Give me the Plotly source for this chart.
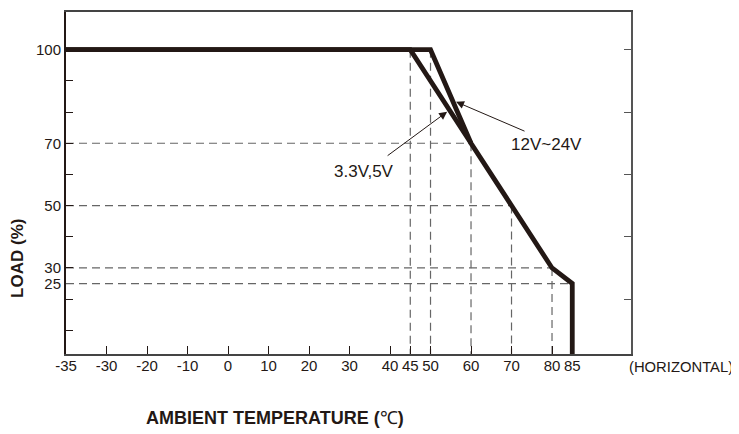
import plotly.graph_objects as go

# ---- data ----
temp_12_24 = [-35, 50, 60, 70, 80, 85, 85]
load_12_24 = [100, 100, 70, 50, 30, 25, 0]
temp_33_5 = [-35, 45, 60]
load_33_5 = [100, 100, 70]

x_tick_labels = [-35, -30, -20, -10, 0, 10, 20, 30, 40, 45, 50, 60, 70, 80, 85]
y_tick_labels = [25, 30, 50, 70, 100]
y_minor_ticks = [10, 20, 30, 40, 50, 60, 70, 80, 90]
y_right_ticks = [20, 40, 60, 80, 100]

# knees that get dashed guide lines
h_guides = [(60, 70), (70, 50), (80, 30), (85, 25)]
v_guides = [(45, 100), (50, 100), (60, 70), (70, 50), (80, 30)]

INK = "#231815"
FONT = "Liberation Sans, Arial, sans-serif"


def xpos(t):
    # the chart's axis stretches the -35..-30 segment to the width of 10 degrees
    return t if t >= -30 else -30 + (t + 30) * 2


XMIN, XMAX = xpos(-35), 99.5
YMIN, YMAX = 2.4, 112.1

fig = go.Figure()

# dashed guides
gx, gy = [], []
for t, l in h_guides:
    gx += [xpos(-35), xpos(t), None]
    gy += [l, l, None]
for t, l in v_guides:
    gx += [xpos(t), xpos(t), None]
    gy += [l, 0, None]
fig.add_trace(go.Scatter(x=gx, y=gy, mode="lines",
                         line=dict(color="#666666", width=1.2, dash="8px,5px"),
                         showlegend=False, hoverinfo="skip"))

fig.add_trace(go.Scatter(x=[xpos(t) for t in temp_33_5], y=load_33_5, mode="lines",
                         line=dict(color=INK, width=4.8), name="3.3V,5V", showlegend=False))
fig.add_trace(go.Scatter(x=[xpos(t) for t in temp_12_24], y=load_12_24, mode="lines",
                         line=dict(color=INK, width=4.8), name="12V~24V", showlegend=False))

# dummy traces to carry the extra tick-only axes
fig.add_trace(go.Scatter(x=[None], y=[None], yaxis="y2", showlegend=False, hoverinfo="skip"))
fig.add_trace(go.Scatter(x=[None], y=[None], yaxis="y3", showlegend=False, hoverinfo="skip"))

fig.update_layout(
    width=731, height=426,
    margin=dict(l=58, r=108, t=2, b=80),
    paper_bgcolor="white", plot_bgcolor="white",
    font=dict(family=FONT, size=15, color=INK),
    xaxis=dict(range=[XMIN, XMAX], tickvals=[xpos(t) for t in x_tick_labels],
               ticktext=[str(t) for t in x_tick_labels], ticks="inside", ticklen=8,
               tickcolor=INK, showline=True, linecolor="#444444", linewidth=1.5, mirror=True,
               showgrid=False, zeroline=False, tickfont=dict(size=15, color=INK),
               ticklabelstandoff=-3),
    yaxis=dict(range=[YMIN, YMAX], tickvals=y_tick_labels, ticktext=[str(v) for v in y_tick_labels],
               ticks="", showline=True, linecolor=INK, linewidth=2, showgrid=False, zeroline=False,
               tickfont=dict(size=15, color=INK)),
    yaxis2=dict(range=[YMIN, YMAX], overlaying="y", side="right", anchor="x", tickvals=y_right_ticks,
                ticks="inside", ticklen=7, tickcolor="#555555", showticklabels=False,
                showline=True, linecolor="#555555", linewidth=1.5, showgrid=False, zeroline=False),
    yaxis3=dict(range=[YMIN, YMAX], overlaying="y", side="left", anchor="x", tickvals=y_minor_ticks,
                ticks="inside", ticklen=7, tickcolor=INK, showticklabels=False,
                showline=False, showgrid=False, zeroline=False),
)

# curve labels with arrows
fig.add_annotation(x=54.1, y=80.1, ax=-61, ay=45, text="", showarrow=True,
                   arrowhead=2, arrowsize=1.6, arrowwidth=1, arrowcolor=INK)
fig.add_annotation(x=56.3, y=83.3, ax=70, ay=30, text="", showarrow=True,
                   arrowhead=2, arrowsize=1.6, arrowwidth=1, arrowcolor=INK)
fig.add_annotation(x=(364 - 228) / 4.05, y=(361.9 - 170.7) / 3.1436, text="3.3V,5V",
                   showarrow=False, font=dict(size=17, color=INK))
fig.add_annotation(x=(546.7 - 228) / 4.05, y=(361.9 - 142.7) / 3.1436, text="12V~24V",
                   showarrow=False, font=dict(size=17, color=INK))

fig.add_annotation(xref="paper", yref="paper", x=1, y=0, xanchor="left", yanchor="middle",
                   xshift=-3, yshift=-13, text="(HORIZONTAL)", showarrow=False, borderpad=0,
                   font=dict(size=14.8, color=INK))
fig.add_annotation(xref="paper", yref="paper", x=(275 - 66) / 565, y=0, xanchor="center",
                   yanchor="middle", yshift=-64, text="<b>AMBIENT TEMPERATURE (</b>℃<b>)</b>",
                   showarrow=False, font=dict(size=18, color=INK))
fig.add_annotation(xref="paper", yref="paper", x=(17.5 - 66) / 565, y=(354.3 - 258) / 344.5,
                   xanchor="center", yanchor="middle", textangle=-90, text="<b>LOAD (%)</b>",
                   showarrow=False, font=dict(size=17, color=INK))

fig.write_html("out.html")
